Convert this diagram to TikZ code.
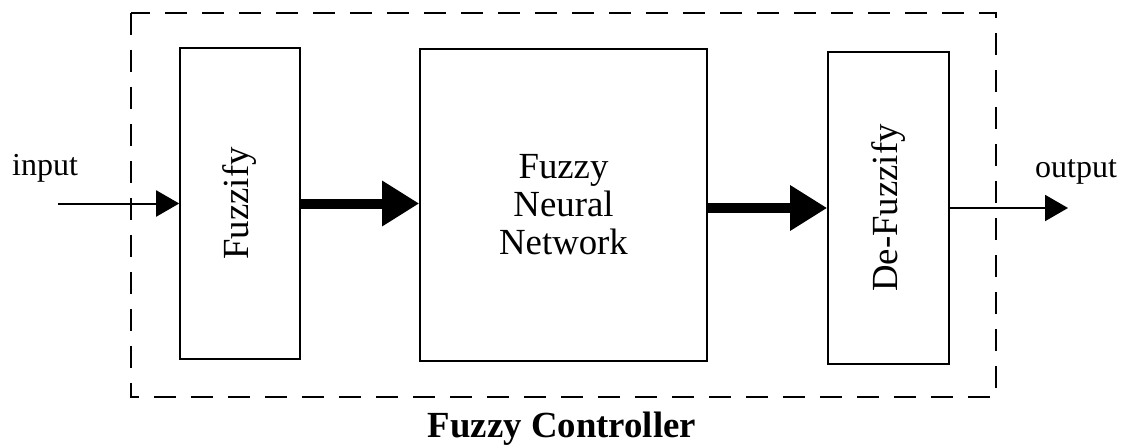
\documentclass[tikz,border=0pt]{standalone}
\usepackage{fontspec}
\setmainfont{Liberation Serif}
\usetikzlibrary{arrows.meta}
\begin{document}
\begin{tikzpicture}[x=0.5pt,y=-0.5pt,
  block/.style={draw,line width=0.8pt,rectangle,inner sep=0pt,font=\fontsize{18.4}{19}\selectfont,align=center},
  thinarrow/.style={line width=1pt,-{Triangle[length=11.5pt,width=13pt]}},
  thickarrow/.style={line width=5pt,-{Triangle[length=18.5pt,width=21.5pt]}},
  frame/.style={draw,line width=1.2pt,dash pattern=on 11pt off 7.5pt},
  label/.style={font=\fontsize{16}{18}\selectfont,anchor=base}]
  \useasboundingbox (0,0) rectangle (1122,444);

  % controller boundary
  \draw[frame] (131,13) rectangle (996,397);
  \node[anchor=base,font=\fontsize{18.4}{20}\selectfont\bfseries] (title) at (562,437) {Fuzzy Controller};

  % processing blocks
  \node[block,minimum width=60pt,minimum height=155.5pt] (fz) at (240,203.5) {};
  \node[rotate=90,font=\fontsize{18.4}{19}\selectfont] (fzt) at (fz.center) {Fuzzify};
  \node[block,minimum width=143.5pt,minimum height=156pt] (fnn) at (563.5,205) {Fuzzy\\Neural\\Network};
  \node[block,minimum width=60.5pt,minimum height=156pt] (dfz) at (888.5,208) {};
  \node[rotate=90,font=\fontsize{18.4}{19}\selectfont] (dfzt) at (dfz.center) {De-Fuzzify};

  % signal labels
  \node[label] (in) at (45,175) {input};
  \node[label] (out) at (1076,177) {output};

  % connectors
  \coordinate (src) at (58,203.5);
  \coordinate (dst) at (1068,208);
  \draw[thinarrow] (src) -- (fz.west);
  \draw[thickarrow] (fz.east) -- (fz.east -| fnn.west);
  \draw[thickarrow] (dfz.west -| fnn.east) -- (dfz.west);
  \draw[thinarrow] (dfz.east) -- (dst);
\end{tikzpicture}
\end{document}
